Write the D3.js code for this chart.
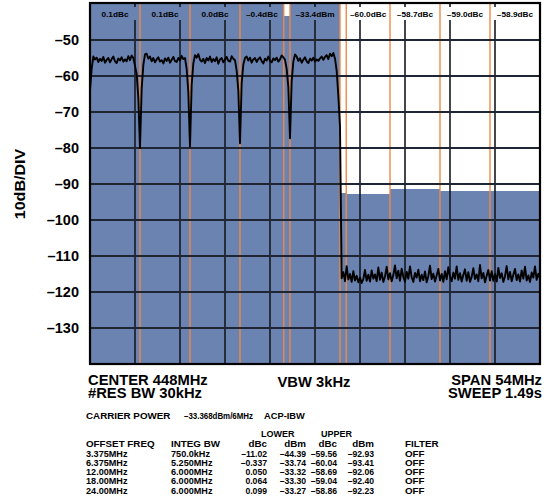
<!DOCTYPE html>
<html><head><meta charset="utf-8">
<script src="https://cdn.jsdelivr.net/npm/d3@7"></script>
<style>
html,body{margin:0;padding:0;background:#fff;}
svg{display:block;font-family:"Liberation Sans",Arial,sans-serif;font-weight:bold;}
</style></head>
<body>
<svg id="chart" width="554" height="502"></svg>
<script>
// ---------- data ----------
const centerMHz = 448;
const spanMHz = 54;
const traceStartMHz = 421;
const traceStepMHz = 0.2;
const yTicks = [-130, -120, -110, -100, -90, -80, -70, -60, -50];
// spectrum trace (dBm), one value every 0.2 MHz from 421 MHz
const traceDbm = [
  -64.0, -58.0, -54.6, -55.4, -54.9, -56.1, -55.2, -55.8, -54.7, -56.3,
  -55.5, -55.0, -56.2, -55.3, -54.6, -55.9, -56.4, -55.1, -55.7, -54.8,
  -56.0, -55.4, -55.9, -54.5, -55.6, -54.3, -55.0, -57.2, -59.5, -66.0,
  -80.0, -63.5, -57.0, -54.0, -53.8, -55.2, -54.6, -55.9, -55.0, -56.2,
  -55.4, -54.8, -56.0, -55.6, -56.5, -55.1, -55.8, -54.9, -56.3, -55.5,
  -54.7, -55.9, -56.1, -55.0, -55.7, -54.4, -55.3, -55.0, -58.0, -64.5,
  -79.6, -62.5, -56.5, -54.2, -54.9, -53.9, -55.5, -56.0, -55.2, -56.4,
  -55.0, -55.7, -54.6, -56.1, -55.3, -55.9, -54.8, -56.6, -55.4, -55.0,
  -56.2, -55.5, -54.7, -55.8, -56.0, -54.5, -55.2, -55.6, -58.5, -64.0,
  -78.7, -62.0, -56.8, -55.0, -54.6, -55.7, -54.9, -56.3, -55.4, -55.0,
  -56.1, -55.3, -54.8, -55.9, -56.5, -55.2, -55.7, -54.6, -55.8, -56.2,
  -55.1, -55.6, -54.9, -56.0, -55.4, -54.3, -54.8, -55.5, -58.0, -63.0,
  -77.3, -61.5, -56.0, -54.0, -54.6, -55.8, -55.1, -56.3, -55.5, -54.8,
  -55.9, -56.4, -55.2, -55.7, -54.9, -56.0, -55.4, -55.8, -55.1, -54.6,
  -55.5, -54.7, -54.2, -55.3, -53.8, -54.5, -53.6, -55.2, -58.5, -65.5,
  -74.0,
  -116.2, -114.5, -117.0, -112.8, -116.5, -115.0, -117.2, -114.2, -116.8, -115.5,
  -117.3, -116.0, -117.5, -116.4, -113.9, -116.9, -115.2, -117.1, -114.0, -116.3,
  -115.1, -117.0, -113.2, -116.6, -114.6, -117.2, -115.7, -113.0, -116.5, -114.8,
  -117.0, -115.3, -112.6, -116.2, -114.1, -116.9, -113.5, -115.8, -117.1, -114.4,
  -116.3, -112.9, -115.9, -117.2, -114.7, -116.0, -113.8, -117.0, -115.2, -116.7,
  -114.3, -117.3, -115.6, -112.7, -116.4, -114.9, -117.1, -115.4, -113.6, -116.8,
  -115.0, -117.2, -114.2, -116.5, -113.1, -115.7, -117.0, -114.6, -116.3, -112.9,
  -116.6, -114.8, -117.1, -115.3, -113.7, -116.9, -114.5, -117.2, -115.8, -113.4,
  -116.4, -115.1, -117.0, -112.5, -116.2, -114.7, -117.3, -115.5, -113.9, -116.8,
  -114.2, -116.9, -115.0, -117.1, -113.3, -116.1, -114.8, -117.2, -115.6, -112.8,
  -116.5, -114.4, -117.0, -115.2, -113.6, -116.7, -115.1, -117.1, -114.0, -116.3,
  -113.0, -116.8, -115.4, -117.2, -114.6, -116.0, -112.9, -116.6, -114.9, -116.2
];
// integration bands
const carrierBwMHz = 6;
const carrierFillDbm = -33.4;
const carrierLabel = "–33.4dBm";
const offsetMHz = [3.375, 6.375, 12, 18, 24];
const integBwMHz = [0.75, 5.25, 6, 6, 6];
const lowerFillDbm = [-43.3, -33.7, -33.3, -33.3, -33.3];
const upperFillDbm = [-92.4, -92.7, -91.5, -91.9, -91.9];
const lowerLabels = ["", "–0.4dBc", "0.0dBc", "0.1dBc", "0.1dBc"];
const upperLabels = ["", "–60.0dBc", "–58.7dBc", "–59.0dBc", "–58.9dBc"];
// table
const offsetFreqText = ["3.375MHz", "6.375MHz", "12.00MHz", "18.00MHz", "24.00MHz"];
const integBwText = ["750.0kHz", "5.250MHz", "6.000MHz", "6.000MHz", "6.000MHz"];
const lowerDbc = ["–11.02", "–0.337", "0.050", "0.064", "0.099"];
const lowerDbm = ["–44.39", "–33.74", "–33.32", "–33.30", "–33.27"];
const upperDbc = ["–59.56", "–60.04", "–58.69", "–59.04", "–58.86"];
const upperDbm = ["–92.93", "–93.41", "–92.06", "–92.40", "–92.23"];
const filterText = ["OFF", "OFF", "OFF", "OFF", "OFF"];

// ---------- layout ----------
const L = 90, R = 540, T = 4, B = 364;
const svg = d3.select("#chart");
const x = d3.scaleLinear().domain([centerMHz - spanMHz / 2, centerMHz + spanMHz / 2]).range([L, R]);
const y = d3.scaleLinear().domain([-140, -40]).range([B, T]);
const BLUE = "#6a83b1", ORANGE = "#ef8a45";

svg.append("rect").attr("width", 554).attr("height", 502).attr("fill", "#fff");

// bands
const bands = [];
bands.push({lo: centerMHz - carrierBwMHz / 2, hi: centerMHz + carrierBwMHz / 2, v: carrierFillDbm, label: carrierLabel});
offsetMHz.forEach((o, i) => {
  const c = centerMHz - o;
  bands.push({lo: c - integBwMHz[i] / 2, hi: c + integBwMHz[i] / 2, v: lowerFillDbm[i], label: lowerLabels[i]});
  const c2 = centerMHz + o;
  bands.push({lo: c2 - integBwMHz[i] / 2, hi: c2 + integBwMHz[i] / 2, v: upperFillDbm[i], label: upperLabels[i]});
});
const plot = svg.append("g");
plot.selectAll("rect.band").data(bands).join("rect")
  .attr("x", d => x(d.lo)).attr("width", d => x(d.hi) - x(d.lo))
  .attr("y", d => Math.max(T, y(d.v))).attr("height", d => B - Math.max(T, y(d.v)))
  .attr("fill", BLUE).attr("shape-rendering", "crispEdges");

// orange band edges
const edges = Array.from(new Set(bands.flatMap(b => [b.lo, b.hi]))).filter(f => x(f) > L + 1 && x(f) < R - 1);
plot.selectAll("line.edge").data(edges).join("line")
  .attr("x1", d => x(d)).attr("x2", d => x(d)).attr("y1", T).attr("y2", B)
  .attr("stroke", ORANGE).attr("stroke-width", 1.4);

// grid
const vGrid = d3.range(1, 10).map(k => x.domain()[0] + k * spanMHz / 10);
plot.selectAll("line.vg").data(vGrid).join("line")
  .attr("x1", d => x(d)).attr("x2", d => x(d)).attr("y1", 20).attr("y2", B)
  .attr("stroke", "#15181f").attr("stroke-width", 1.6);
plot.selectAll("line.vt").data(vGrid).join("line")
  .attr("x1", d => x(d)).attr("x2", d => x(d)).attr("y1", T).attr("y2", T + 3)
  .attr("stroke", "#15181f").attr("stroke-width", 1.6);
plot.selectAll("line.hg").data(yTicks).join("line")
  .attr("x1", L).attr("x2", R).attr("y1", d => y(d)).attr("y2", d => y(d))
  .attr("stroke", "#1f2533").attr("stroke-width", 1.8);

// trace
const line = d3.line().x((d, i) => x(traceStartMHz + i * traceStepMHz)).y(d => y(d));
plot.append("path").datum(traceDbm).attr("d", line)
  .attr("fill", "none").attr("stroke", "#000").attr("stroke-width", 1.9).attr("stroke-linejoin", "round");

// frame
svg.append("rect").attr("x", L).attr("y", T - 1).attr("width", R - L).attr("height", B - T + 1)
  .attr("fill", "none").attr("stroke", "#000").attr("stroke-width", 2.2);

// helper for text with horizontal stretch
function txt(g, tx, ty, s, size, anchor, sx, len) {
  const t = g.append("text").attr("transform", `translate(${tx},${ty}) scale(${sx},1)`)
    .attr("font-size", size).attr("text-anchor", anchor || "start").attr("fill", "#000").text(s);
  if (len) t.attr("textLength", len).attr("lengthAdjust", "spacingAndGlyphs");
  return t;
}

// band labels
const lab = svg.append("g");
bands.filter(b => b.label).forEach(b => txt(lab, (x(b.lo) + x(b.hi)) / 2, 16.5, b.label, 7.2, "middle", 1.15));

// y axis
const yAxis = d3.axisLeft(y).tickValues(yTicks).tickSize(0).tickPadding(11)
  .tickFormat(d => String(d).replace("-", "–"));
const ya = svg.append("g").attr("transform", `translate(${L},0)`).call(yAxis);
ya.select(".domain").remove();
ya.selectAll("text").attr("font-size", 14.5).attr("font-weight", "bold")
  .attr("font-family", '"Liberation Sans",Arial,sans-serif').attr("fill", "#000");
svg.append("text").attr("transform", `translate(25,${(T + B) / 2}) rotate(-90) scale(1.15,1)`)
  .attr("text-anchor", "middle").attr("font-size", 14).text("10dB/DIV");

// bottom annotations
const ann = svg.append("g");
txt(ann, 88, 385, "CENTER 448MHz", 14, "start", 1.055);
txt(ann, 88, 398, "#RES BW 30kHz", 14, "start", 1.055);
txt(ann, 314, 387, "VBW 3kHz", 14, "middle", 1.055);
txt(ann, 542, 385, "SPAN 54MHz", 14, "end", 1.055);
txt(ann, 542, 398, "SWEEP 1.49s", 14, "end", 1.055);

// table
const tb = svg.append("g");
const fs = 9.8, sx = 1.0, nx = 0.88;
const c0 = 86, c1 = 171, c2 = 267, c3 = 306, c4 = 337, c5 = 374, c6 = 405;
txt(tb, c0, 419, "CARRIER POWER", fs, "start", sx);
txt(tb, 184, 419, "–33.368dBm/6MHz", fs, "start", 1, 69);
txt(tb, 264, 419, "ACP-IBW", fs, "start", 0.95);
txt(tb, 261, 437, "LOWER", fs, "start", 0.92);
txt(tb, 321, 437, "UPPER", fs, "start", 0.92);
const hy = 447;
txt(tb, c0, hy, "OFFSET FREQ", fs, "start", sx);
txt(tb, c1, hy, "INTEG BW", fs, "start", sx);
txt(tb, c2, hy, "dBc", fs, "end", sx);
txt(tb, c3, hy, "dBm", fs, "end", sx);
txt(tb, c4, hy, "dBc", fs, "end", sx);
txt(tb, c5, hy, "dBm", fs, "end", sx);
txt(tb, c6, hy, "FILTER", fs, "start", sx);
offsetFreqText.forEach((s, i) => {
  const ry = 456.5 + i * 9.25;
  txt(tb, c0, ry, s, fs, "start", nx + 0.05);
  txt(tb, c1, ry, integBwText[i], fs, "start", nx + 0.05);
  txt(tb, c2, ry, lowerDbc[i], fs, "end", nx);
  txt(tb, c3, ry, lowerDbm[i], fs, "end", nx);
  txt(tb, c4, ry, upperDbc[i], fs, "end", nx);
  txt(tb, c5, ry, upperDbm[i], fs, "end", nx);
  txt(tb, c6, ry, filterText[i], fs, "start", sx);
});
</script>
</body></html>
